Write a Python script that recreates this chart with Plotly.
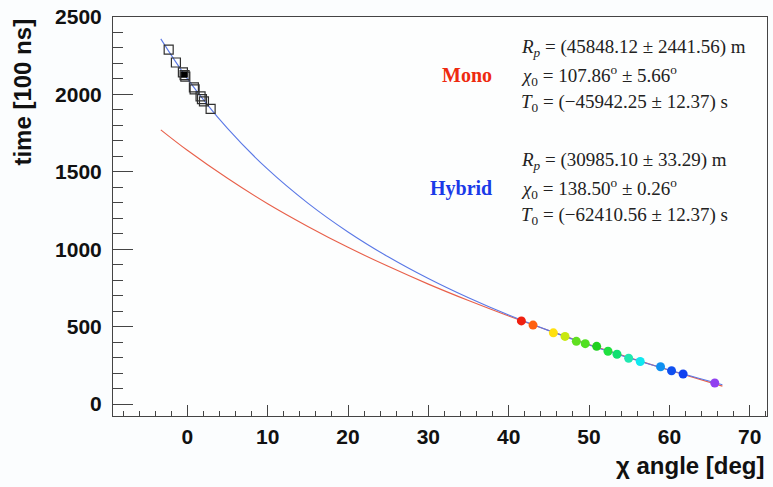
import plotly.graph_objects as go

# ---- data ----
sq_x = [-2.32, -1.42, -0.55, -0.34, -0.25, 0.82, 0.91, 1.65, 1.82, 2.07, 2.90]
sq_y = [2289, 2206, 2142, 2125, 2115, 2046, 2033, 1987, 1969, 1955, 1907]
filled_x = [-0.40]
filled_y = [2128]

dot_x = [41.58, 43.03, 45.56, 47.01, 48.42, 49.53, 50.95, 52.36, 53.48, 54.93, 56.37, 58.90, 60.27, 61.71, 65.65]
dot_y = [537, 510, 460, 437, 405, 390, 373, 341, 322, 296, 275, 241, 215, 194, 136]
dot_c = ["#f02010", "#ff6010", "#ffe010", "#c8e810", "#60e020", "#50e020", "#20d020",
         "#20e040", "#10e070", "#20e8b0", "#10e8f0", "#1090f0", "#1050f0", "#1040f0", "#9040f0"]

curve_x = [-3.3, 0, 5, 10, 15, 20, 25, 30, 35, 40, 45, 50, 55, 60, 66.6]
hybrid_y = [2358.6, 2102.0, 1779.9, 1517.2, 1298.1, 1111.9, 951.2, 810.6, 686.1, 574.6, 474.3, 382.0, 297.7, 219.8, 124.9]
mono_y = [1771.3, 1639.2, 1458.3, 1294.0, 1147.4, 1012.6, 889.5, 774.7, 668.6, 568.7, 474.6, 385.4, 300.3, 218.7, 116.0]

x_ticks = [0, 10, 20, 30, 40, 50, 60, 70]
y_ticks = [0, 500, 1000, 1500, 2000, 2500]

mono_lines = ["<i>R</i><sub><i>p</i></sub> = (45848.12 ± 2441.56) m",
              "<i>χ</i><sub>0</sub> = 107.86<sup>o</sup> ± 5.66<sup>o</sup>",
              "<i>T</i><sub>0</sub> = (−45942.25 ± 12.37) s"]
hybrid_lines = ["<i>R</i><sub><i>p</i></sub> = (30985.10 ± 33.29) m",
                "<i>χ</i><sub>0</sub> = 138.50<sup>o</sup> ± 0.26<sup>o</sup>",
                "<i>T</i><sub>0</sub> = (−62410.56 ± 12.37) s"]

fig = go.Figure()
fig.add_trace(go.Scatter(x=curve_x, y=mono_y, mode="lines", line=dict(color="#e8604a", width=1.1, shape="spline"),
                         hoverinfo="skip"))
fig.add_trace(go.Scatter(x=curve_x, y=hybrid_y, mode="lines", line=dict(color="#5a78e6", width=1.1, shape="spline"),
                         hoverinfo="skip"))
fig.add_trace(go.Scatter(x=sq_x, y=sq_y, mode="markers",
                         marker=dict(symbol="square-open", size=9, color="#303030", line=dict(width=1.2, color="#303030"))))
fig.add_trace(go.Scatter(x=filled_x, y=filled_y, mode="markers",
                         marker=dict(symbol="square", size=6, color="#000000")))
fig.add_trace(go.Scatter(x=dot_x, y=dot_y, mode="markers",
                         marker=dict(symbol="circle", size=9, color=dot_c, line=dict(width=0))))

tickfont = dict(family="Liberation Sans", size=21, color="#111111", weight="bold")
fig.update_xaxes(range=[-9.25, 72.15], tickvals=x_ticks, ticks="inside", ticklen=11, tickwidth=1,
                 tickcolor="#444", showline=True, linecolor="#444", linewidth=1, mirror=True,
                 showgrid=False, zeroline=False, tickfont=tickfont, ticklabelstandoff=2,
                 minor=dict(dtick=2, ticks="inside", ticklen=5, tickcolor="#444", tickwidth=1, showgrid=False))
fig.update_yaxes(range=[-77, 2500], tickvals=y_ticks, ticks="inside", ticklen=20, tickwidth=1,
                 tickcolor="#444", showline=True, linecolor="#444", linewidth=1, mirror=True,
                 showgrid=False, zeroline=False, tickfont=tickfont, ticklabelstandoff=6,
                 minor=dict(dtick=100, ticks="inside", ticklen=10, tickcolor="#444", tickwidth=1, showgrid=False))

ann = []
ann.append(dict(text="time [100 ns]", textangle=-90, xref="paper", yref="paper", x=-0.139, y=1.0,
                xanchor="center", yanchor="top", showarrow=False,
                font=dict(family="Liberation Sans", size=24, color="#111", weight="bold")))
ann.append(dict(text="χ angle [deg]", xref="paper", yref="paper", x=1.0, y=-0.124,
                xanchor="right", yanchor="middle", showarrow=False,
                font=dict(family="Liberation Sans", size=24, color="#111", weight="bold")))
ann.append(dict(text="Mono", xref="paper", yref="paper", x=0.583, y=0.854, xanchor="right", yanchor="middle",
                showarrow=False, font=dict(family="Liberation Serif", size=20, color="#ee2a10", weight="bold")))
ann.append(dict(text="Hybrid", xref="paper", yref="paper", x=0.583, y=0.571, xanchor="right", yanchor="middle",
                showarrow=False, font=dict(family="Liberation Serif", size=20, color="#1a3ae8", weight="bold")))
for lines, ys in ((mono_lines, [0.923, 0.854, 0.784]), (hybrid_lines, [0.640, 0.571, 0.501])):
    for t, yy in zip(lines, ys):
        ann.append(dict(text=t, xref="paper", yref="paper", x=0.621, y=yy, xanchor="left", yanchor="middle",
                        showarrow=False, font=dict(family="Liberation Serif", size=19, color="#222")))

fig.update_layout(width=773, height=487, margin=dict(l=113, r=5, t=13, b=71),
                  paper_bgcolor="#fbfdfe", plot_bgcolor="#fdfefe", showlegend=False, annotations=ann)
fig.write_html("out.html")
